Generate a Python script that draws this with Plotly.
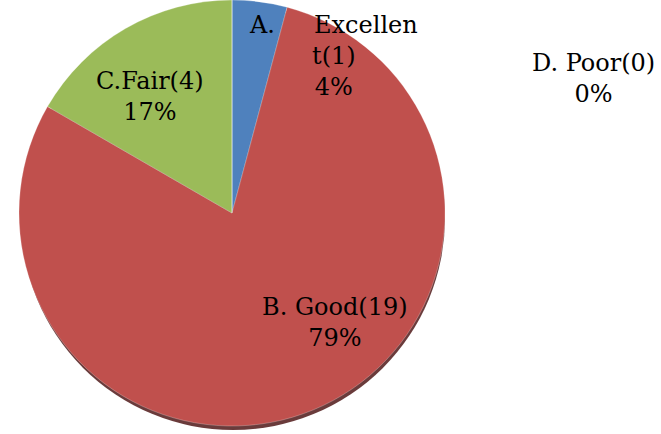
# Survey result pie chart
import plotly.graph_objects as go

categories = ["A. Excellent", "B. Good", "C.Fair", "D. Poor"]
counts = [1, 19, 4, 0]
colors = ["#4F81BD", "#C0504D", "#9BBB59", "#8064A2"]

total = sum(counts)
pct = [round(c / total * 100) for c in counts]

W, H = 661, 434
cx, cy, r = 232, 213, 213  # pie centre / radius in px (from top-left)

def dom(cx, cy, r):
    return dict(x=[(cx - r) / W, (cx + r) / W],
                y=[max(0, (H - cy - r) / H), min(1, (H - cy + r) / H)])

fig = go.Figure()

# soft shadow under the pie
fig.add_trace(go.Pie(
    values=[1], marker=dict(colors=["rgba(80,25,25,0.85)"]),
    domain=dom(cx + 1, cy + 5, r - 1), textinfo="none", hoverinfo="skip",
    showlegend=False, sort=False,
))

fig.add_trace(go.Pie(
    labels=categories, values=counts,
    marker=dict(colors=colors, line=dict(color="rgba(255,255,255,0.25)", width=1)),
    sort=False, direction="clockwise", rotation=0,
    textinfo="none", showlegend=False,
    domain=dom(cx, cy, r),
))

font = dict(family="DejaVu Serif", size=24, color="#000")

# label texts built from the data
a_name, a_rest = categories[0].split(" ")
a_tail = a_rest[-1:]
labels = [
    (a_name, 262, 25),
    (a_rest[:-1], 366, 25),
    (f"{a_tail}({counts[0]})<br>{pct[0]}%", 334, 71),
    (f"{categories[1]}({counts[1]})<br>{pct[1]}%", 335, 322),
    (f"{categories[2]}({counts[2]})<br>{pct[2]}%", 150, 97),
    (f"{categories[3]}({counts[3]})<br>{pct[3]}%", 593, 79),
]
for txt, x, y in labels:
    fig.add_annotation(text=txt, x=x / W, y=1 - y / H, xref="paper", yref="paper",
                       showarrow=False, font=font, align="center",
                       xanchor="center", yanchor="middle")

fig.update_layout(
    width=W, height=H, margin=dict(l=0, r=0, t=0, b=0),
    paper_bgcolor="white", plot_bgcolor="white",
)

fig.write_html("out.html", config={"displayModeBar": False},
               post_script="document.body.style.margin='0';")
